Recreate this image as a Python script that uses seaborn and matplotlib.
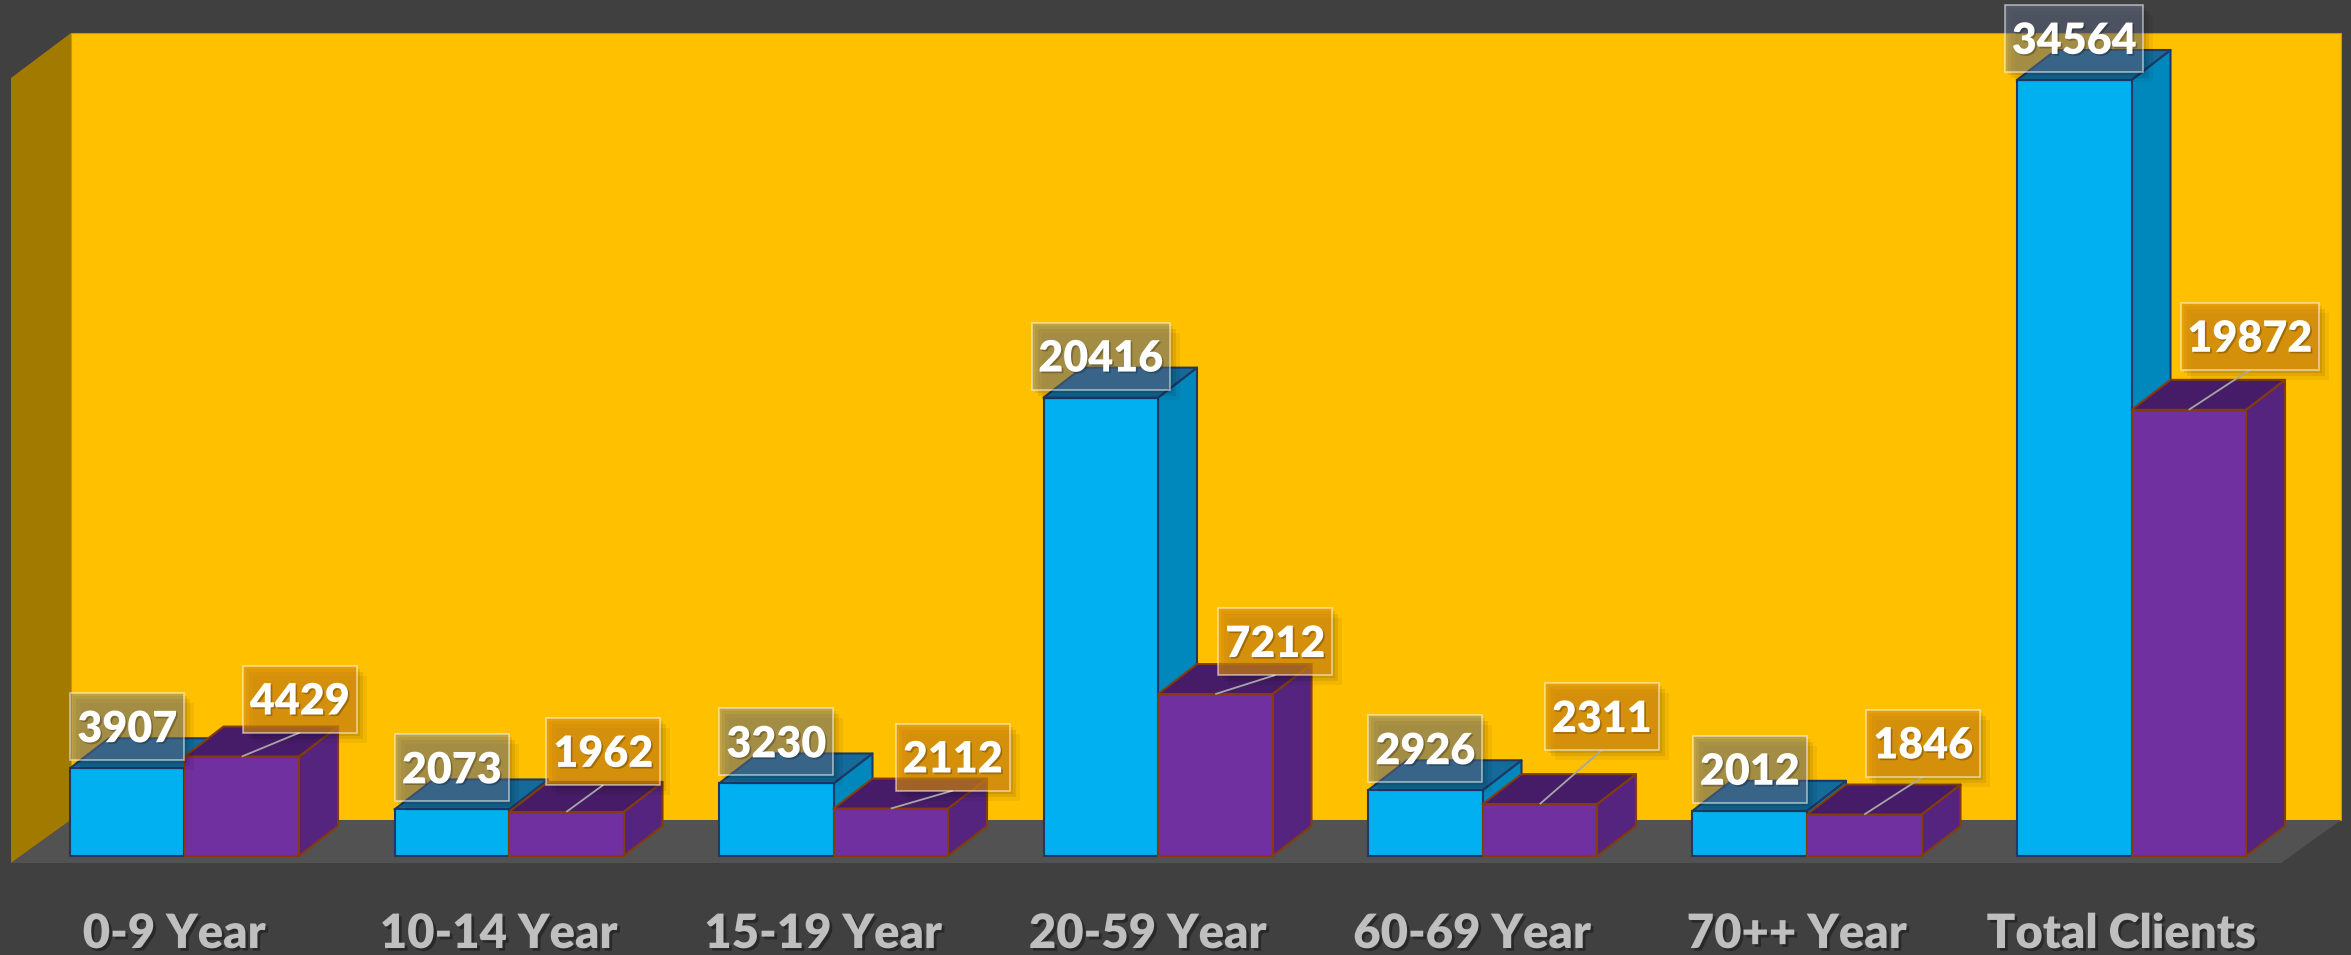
import numpy as np
import pandas as pd
import matplotlib
matplotlib.use("Agg")
import matplotlib.pyplot as plt
import seaborn as sns
from matplotlib.patches import Polygon, Rectangle
import matplotlib.transforms as mtransforms
import matplotlib.patheffects as pe

# ---------------- data ----------------
categories = ["0-9 Year", "10-14 Year", "15-19 Year", "20-59 Year",
              "60-69 Year", "70++ Year", "Total Clients"]
series_names = ["Series 1", "Series 2"]
series_a = [3907, 2073, 3230, 20416, 2926, 2012, 34564]
series_b = [4429, 1962, 2112, 7212, 2311, 1846, 19872]

# label nudges for the second series (pixels: right, up)
label_b_dx = [58, 37, 62, 60, 62, 59, 61]
label_b_dy = [24, 27, 18, 19, 54, 38, 40]

# ---------------- style ----------------
W, H, DPI = 2351, 955, 100
BG = "#404040"
BLUE_FRONT, BLUE_SIDE, BLUE_TOP, BLUE_EDGE = "#00B0F0", "#0088BC", "#146A98", "#1F3864"
PURP_FRONT, PURP_SIDE, PURP_TOP, PURP_EDGE = "#7030A0", "#55247F", "#461C68", "#843C0C"
WALL, SIDEWALL, FLOOR = "#FFC000", "#A37A00", "#525252"

sns.set_theme(style="white")
plt.rcParams["font.family"] = ["Lato", "DejaVu Sans"]

fig = plt.figure(figsize=(W / DPI, H / DPI), dpi=DPI, facecolor=BG)
ax = fig.add_axes([0, 0, 1, 1])
ax.set_facecolor("none")

# pixel (from top-left) transform for the chart frame decorations
pix = mtransforms.Affine2D().scale(1.0 / W, -1.0 / H).translate(0, 1) + fig.transFigure

# layout
group_px, first_center_px, bar_px = 324.5, 184.5, 114.5
base_px, top_px = 856, 80
depth_dx, depth_dy = 39, 30
width = 2 * bar_px / group_px

df = pd.DataFrame({
    "category": categories * 2,
    "value": series_a + series_b,
    "series": [series_names[0]] * len(categories) + [series_names[1]] * len(categories),
})

sns.barplot(data=df, x="category", y="value", hue="series", order=categories,
            hue_order=series_names, palette=[BLUE_FRONT, PURP_FRONT], width=width,
            saturation=1, dodge=True, legend=False, errorbar=None, ax=ax)

vmax = max(series_a + series_b)
k = (base_px - top_px) / vmax          # px per value unit
sx = group_px                            # px per category unit
ax.set_xlim(-first_center_px / sx, (W - first_center_px) / sx)
ax.set_ylim(-(H - base_px) / k, base_px / k)
ax.set_axis_off()

# ---------------- chart frame (walls + floor) ----------------
ax.add_patch(Rectangle((71, 33), 2270, 787, transform=pix, facecolor=WALL,
                       edgecolor="#C89A00", lw=0.8, zorder=0.5, clip_on=False))
ax.add_patch(Polygon([(11, 78), (71, 33), (71, 820), (11, 863)], closed=True, transform=pix,
                     facecolor=SIDEWALL, edgecolor="none", zorder=0.6, clip_on=False))
ax.add_patch(Polygon([(71, 820), (2341, 820), (2281, 863), (11, 863)], closed=True, transform=pix,
                     facecolor=FLOOR, edgecolor="none", zorder=0.7, clip_on=False))

# ---------------- 3D bars ----------------
ddx, ddy = depth_dx / sx, depth_dy / k
styles = [(BLUE_SIDE, BLUE_TOP, BLUE_EDGE), (PURP_SIDE, PURP_TOP, PURP_EDGE)]
bars = []
for s, cont in enumerate(ax.containers[:2]):
    for i, p in enumerate(cont.patches):
        bars.append((p.get_x(), p.get_width(), p.get_height(), s, i, p))
bars.sort(key=lambda b: b[0])

for r, (x0, w, h, s, i, p) in enumerate(bars):
    side_c, top_c, edge_c = styles[s]
    z = 3 + 0.1 * r
    p.set_edgecolor(edge_c)
    p.set_linewidth(1.5)
    p.set_zorder(z + 0.05)
    side = Polygon([(x0 + w, 0), (x0 + w + ddx, ddy), (x0 + w + ddx, h + ddy), (x0 + w, h)],
                   closed=True, facecolor=side_c, edgecolor=edge_c, lw=1.5, zorder=z,
                   joinstyle="round")
    top = Polygon([(x0, h), (x0 + ddx, h + ddy), (x0 + w + ddx, h + ddy), (x0 + w, h)],
                  closed=True, facecolor=top_c, edgecolor=edge_c, lw=1.5, zorder=z,
                  joinstyle="round")
    ax.add_patch(side)
    ax.add_patch(top)

# ---------------- data labels ----------------
box_h_px = 67
fs_num = 31
cap_px = 0.7165 * fs_num * DPI / 72.0
txt_fx = [pe.withSimplePatchShadow(offset=(1.2, -1.2), shadow_rgbFace="black", alpha=0.25)]


def label_box(cx, bottom, text, face, alpha):
    bw = (24 * len(text) + 18) / sx
    bh = box_h_px / k
    for off, a in ((10, 0.05), (6, 0.08), (3, 0.08)):
        ax.add_patch(Rectangle((cx - bw / 2 + off / sx, bottom - off / k), bw, bh,
                               facecolor="black", alpha=a, edgecolor="none", zorder=9.5))
    ax.add_patch(Rectangle((cx - bw / 2, bottom), bw, bh, facecolor=face, alpha=alpha,
                           edgecolor="none", zorder=10))
    ax.add_patch(Rectangle((cx - bw / 2, bottom), bw, bh, facecolor="none",
                           edgecolor=(1, 1, 1, 0.55), lw=1.2, zorder=10.1))
    ax.text(cx, bottom + bh / 2 - (cap_px / 2) / k, text, ha="center", va="baseline",
            fontsize=fs_num, fontweight="heavy", color="white", zorder=11, path_effects=txt_fx)


for x0, w, h, s, i, p in bars:
    cx = x0 + w / 2
    if s == 0:
        label_box(cx, h + 8 / k, f"{series_a[i]}", "#6F7C99", 0.44)
    else:
        bx = cx + label_b_dx[i] / sx
        bb = h + label_b_dy[i] / k
        ax.plot([cx, bx], [h, bb], color="#A6A6A6", lw=1.3, zorder=9.8, solid_capstyle="butt")
        label_box(bx, bb, f"{series_b[i]}", "#D98C10", 0.65)

# ---------------- category labels ----------------
cat_fx = [pe.withSimplePatchShadow(offset=(2, -2), shadow_rgbFace="black", alpha=0.35)]
y_base = (base_px - 948) / k
for i, c in enumerate(categories):
    ax.text(i - 10 / sx, y_base, c, ha="center", va="baseline", fontsize=34,
            fontweight="heavy", color="#BFBFBF", zorder=11, path_effects=cat_fx, clip_on=False)

fig.savefig("out.png", dpi=DPI, facecolor=BG)
